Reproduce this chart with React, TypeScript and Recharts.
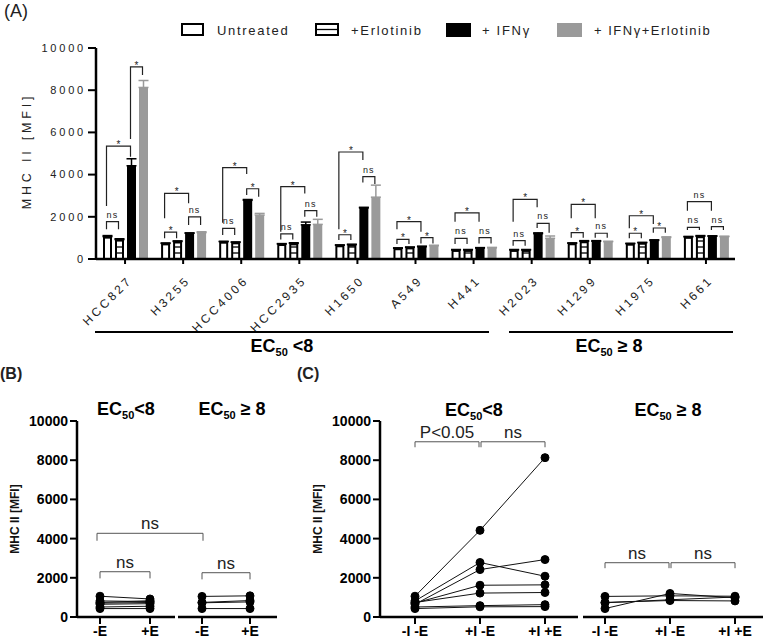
import React from 'react';
import { BarChart, Bar, XAxis, YAxis, ErrorBar, LineChart, Line } from 'recharts';

// MHC II MFI per cell line (panel A); panels B and C reuse the same means
const cellLines = ['HCC827', 'H3255', 'HCC4006', 'HCC2935', 'H1650', 'A549', 'H441', 'H2023', 'H1299', 'H1975', 'H661'];
const untreated = [1060, 740, 820, 710, 650, 510, 430, 430, 745, 725, 1050];
const erlotinib = [920, 830, 790, 740, 680, 550, 430, 430, 840, 770, 1080];
const ifng = [4420, 1220, 2780, 1620, 2420, 580, 520, 1200, 840, 880, 1080];
const ifngErlotinib = [8130, 1250, 2080, 1640, 2930, 630, 530, 980, 820, 1020, 1060];
const untreatedErr = [50, 20, 20, 20, 20, 20, 20, 20, 20, 20, 20];
const erlotinibErr = [40, 30, 20, 30, 20, 20, 20, 20, 30, 20, 30];
const ifngErr = [330, 20, 40, 130, 30, 30, 20, 40, 30, 30, 20];
const ifngErlotinibErr = [330, 40, 80, 240, 570, 20, 20, 110, 20, 30, 20];

const sensitiveIdx = [0, 1, 2, 3, 4, 5, 6]; // EC50 < 8
const resistantIdx = [7, 8, 9, 10]; // EC50 >= 8

const legendLabels = ['Untreated', '+Erlotinib', '+ IFNγ', '+ IFNγ+Erlotinib'];
const yTicks = [0, 2000, 4000, 6000, 8000, 10000];
const condsB = ['-E', '+E'];
const condsC = ['-I -E', '+I -E', '+I +E'];

// [cell line, from bar, to bar, bracket level, left drop, right drop, label]
const brackets: [number, number, number, number, number, number, string][] = [
  [0, 0, 1, 1770, 1410, 1410, 'ns'],
  [0, 0, 2, 5350, 2510, 4850, '*'],
  [0, 2, 3, 9110, 5690, 8720, '*'],
  [1, 0, 1, 1270, 980, 980, '*'],
  [1, 0, 2, 3110, 1930, 2640, '*'],
  [1, 2, 3, 2000, 1610, 1610, 'ns'],
  [2, 0, 1, 1450, 1140, 1140, 'ns'],
  [2, 0, 2, 4330, 1720, 4030, '*'],
  [2, 2, 3, 3330, 3030, 2950, '*'],
  [3, 0, 1, 1190, 930, 930, 'ns'],
  [3, 0, 2, 3430, 1290, 3110, '*'],
  [3, 2, 3, 2290, 2000, 2000, 'ns'],
  [4, 0, 1, 1150, 900, 900, '*'],
  [4, 0, 2, 5070, 1410, 4690, '*'],
  [4, 2, 3, 3900, 3620, 3550, 'ns'],
  [5, 0, 1, 930, 710, 710, '*'],
  [5, 2, 3, 1010, 740, 740, '*'],
  [5, 0, 2, 1770, 1410, 1290, '*'],
  [6, 0, 1, 980, 710, 710, 'ns'],
  [6, 2, 3, 1010, 740, 740, 'ns'],
  [6, 0, 2, 2190, 1770, 1770, '*'],
  [7, 0, 1, 870, 630, 630, 'ns'],
  [7, 0, 2, 2830, 1770, 2450, '*'],
  [7, 2, 3, 1690, 1470, 1250, 'ns'],
  [8, 0, 1, 1250, 1010, 1010, '*'],
  [8, 2, 3, 1220, 1010, 1010, 'ns'],
  [8, 0, 2, 2590, 1930, 1930, '*'],
  [9, 0, 1, 1220, 980, 980, '*'],
  [9, 2, 3, 1470, 1250, 1250, '*'],
  [9, 0, 2, 2050, 1460, 1660, '*'],
  [10, 0, 1, 1500, 1370, 1370, 'ns'],
  [10, 2, 3, 1530, 1370, 1370, 'ns'],
  [10, 0, 2, 2720, 2290, 2290, 'ns'],
];

const FONT = '"Liberation Sans", Arial, Helvetica, sans-serif';
const GRAY = '#9a9a9a';

// panel A plot area (must match the BarChart margins below)
const A = { left: 96, top: 48, width: 639, height: 211 };
const BAR = 9;
const GAP = 3;
const band = A.width / cellLines.length;
const barOffset = Math.floor((band - (4 * BAR + 3 * GAP)) / 2);
const barCenter = (g: number, k: number) => A.left + g * band + barOffset + k * (BAR + GAP) + BAR / 2;
const yA = (v: number) => A.top + A.height * (1 - v / 10000);

// panels B / C share the same vertical plot area
const BC = { top: 421, height: 196 };
const yBC = (v: number) => BC.top + BC.height * (1 - v / 10000);

const panelsBC = {
  bL: { left: 0, yWidth: 77, plotW: 98, pad: { left: 23, right: 25 } },
  bR: { left: 178, yWidth: 0, plotW: 99, pad: { left: 24, right: 27 } },
  cL: { left: 290, yWidth: 90, plotW: 198, pad: { left: 35, right: 33 } },
  cR: { left: 583, yWidth: 0, plotW: 180, pad: { left: 22, right: 28 } },
};
type Panel = typeof panelsBC.bL;
const catX = (p: Panel, idx: number, n: number) =>
  p.left + p.yWidth + p.pad.left + (idx * (p.plotW - p.pad.left - p.pad.right)) / (n - 1);

const barRows = cellLines.map((name, i) => ({
  name,
  u: untreated[i],
  e: erlotinib[i],
  i: ifng[i],
  g: ifngErlotinib[i],
  uErr: [0, untreatedErr[i]],
  eErr: [0, erlotinibErr[i]],
  iErr: [0, ifngErr[i]],
  gErr: [0, ifngErlotinibErr[i]],
}));

const lineRows = (conds: string[], series: number[][], idx: number[]) =>
  conds.map((cond, c) => {
    const row: Record<string, any> = { cond };
    idx.forEach((j) => (row[cellLines[j]] = series[c][j]));
    return row;
  });

const OutlineBar = (props: any) => {
  const { x, y, width, height, hatch } = props;
  if (!(height > 0)) return null;
  const lines = [];
  if (hatch) {
    for (let k = 1; y + height - k * 6 > y + 2; k++) {
      const yy = y + height - k * 6;
      lines.push(<line key={k} x1={x + 1} x2={x + width - 1} y1={yy} y2={yy} stroke="#000" strokeWidth={1.3} />);
    }
  }
  return (
    <g>
      <rect x={x + 1} y={y + 1} width={width - 2} height={height - 1} fill="#fff" stroke="#000" strokeWidth={2} />
      {lines}
    </g>
  );
};

const SlantedTick = ({ x, y, payload }: any) => (
  <text
    transform={`translate(${x + 8},${y + 15}) rotate(-45)`}
    textAnchor="end"
    fontSize={12}
    letterSpacing={3}
    fill="#222"
    fontFamily={FONT}
  >
    {payload.value}
  </text>
);

const SpacedYTick = ({ x, y, payload }: any) => (
  <text x={x} y={y} dy="0.35em" textAnchor="end" fontSize={11} letterSpacing={2.8} fill="#222" fontFamily={FONT}>
    {payload.value}
  </text>
);

const BoldXTick = ({ x, y, payload }: any) => (
  <text x={x} y={y} dy="0.71em" textAnchor="middle" fontSize={14} fontWeight="bold" fill="#000" fontFamily={FONT}>
    {payload.value}
  </text>
);

const BoldYTick = ({ x, y, payload }: any) => (
  <text x={x} y={y} dy="0.35em" textAnchor="end" fontSize={14} fontWeight="bold" fill="#000" fontFamily={FONT}>
    {payload.value}
  </text>
);

function PairChart({ p, rows, keys }: { p: Panel; rows: any[]; keys: string[] }) {
  const width = p.yWidth + p.plotW + 6;
  return (
    <div style={{ position: 'absolute', left: p.left, top: 400 }}>
      <LineChart width={width} height={246} data={rows} margin={{ top: 21, right: 6, left: 0, bottom: 0 }}>
        <XAxis
          dataKey="cond"
          interval={0}
          padding={p.pad}
          height={29}
          tickSize={7}
          axisLine={{ stroke: '#000', strokeWidth: 2.5 }}
          tickLine={{ stroke: '#000', strokeWidth: 2 }}
          tick={(t: any) => <BoldXTick {...t} />}
        />
        {p.yWidth ? (
          <YAxis
            width={p.yWidth}
            domain={[0, 10000]}
            ticks={yTicks}
            interval={0}
            tickSize={7}
            axisLine={{ stroke: '#000', strokeWidth: 2.5 }}
            tickLine={{ stroke: '#000', strokeWidth: 2 }}
            tick={(t: any) => <BoldYTick {...t} />}
          />
        ) : (
          <YAxis hide domain={[0, 10000]} />
        )}
        {keys.map((k) => (
          <Line
            key={k}
            dataKey={k}
            stroke="#111"
            strokeWidth={1}
            dot={{ r: 4, fill: '#000', stroke: '#000', strokeWidth: 1 }}
            isAnimationActive={false}
          />
        ))}
      </LineChart>
    </div>
  );
}

const Title = ({ x, y, rel }: { x: number; y: number; rel: string }) => (
  <text x={x} y={y} textAnchor="middle" fontSize={18} fontWeight="bold" fontFamily={FONT} fill="#000">
    EC
    <tspan fontSize={11} dy={4}>
      50
    </tspan>
    <tspan dy={-4}>{rel}</tspan>
  </text>
);

const StatBracket = ({ x1, x2, level, drop, label }: any) => {
  const y = yBC(level);
  const yd = yBC(drop);
  return (
    <g>
      <polyline points={`${x1},${yd} ${x1},${y} ${x2},${y} ${x2},${yd}`} fill="none" stroke="#555" strokeWidth={1} />
      <text x={(x1 + x2) / 2} y={y - 4} textAnchor="middle" fontSize={17} fill="#222" fontFamily={FONT}>
        {label}
      </text>
    </g>
  );
};

export default function App() {
  const keysS = sensitiveIdx.map((j) => cellLines[j]);
  const keysR = resistantIdx.map((j) => cellLines[j]);
  const { bL, bR, cL, cR } = panelsBC;

  return (
    <div
      style={{
        position: 'absolute',
        left: 0,
        top: 0,
        width: 769,
        height: 638,
        overflow: 'hidden',
        background: '#fff',
        fontFamily: FONT,
      }}
    >
      {/* (A) grouped bars */}
      <div style={{ position: 'absolute', left: 0, top: 0 }}>
        <BarChart
          width={769}
          height={350}
          data={barRows}
          margin={{ top: A.top, right: 769 - A.left - A.width, left: 0, bottom: 0 }}
          barSize={BAR}
          barGap={GAP}
        >
          <XAxis
            dataKey="name"
            interval={0}
            height={91}
            tickSize={5}
            axisLine={{ stroke: '#000', strokeWidth: 2.5 }}
            tickLine={{ stroke: '#000', strokeWidth: 2 }}
            tick={(t: any) => <SlantedTick {...t} />}
          />
          <YAxis
            width={A.left}
            domain={[0, 10000]}
            ticks={yTicks}
            interval={0}
            tickSize={8}
            axisLine={{ stroke: '#000', strokeWidth: 2.5 }}
            tickLine={{ stroke: '#000', strokeWidth: 2 }}
            tick={(t: any) => <SpacedYTick {...t} />}
          />
          <Bar dataKey="u" isAnimationActive={false} shape={(p: any) => <OutlineBar {...p} />}>
            <ErrorBar dataKey="uErr" width={5} stroke="#000" strokeWidth={1.5} />
          </Bar>
          <Bar dataKey="e" isAnimationActive={false} shape={(p: any) => <OutlineBar {...p} hatch />}>
            <ErrorBar dataKey="eErr" width={5} stroke="#000" strokeWidth={1.5} />
          </Bar>
          <Bar dataKey="i" fill="#000" isAnimationActive={false}>
            <ErrorBar dataKey="iErr" width={5} stroke="#000" strokeWidth={1.5} />
          </Bar>
          <Bar dataKey="g" fill={GRAY} isAnimationActive={false}>
            <ErrorBar dataKey="gErr" width={5} stroke={GRAY} strokeWidth={1.5} />
          </Bar>
        </BarChart>
      </div>

      {/* (B) -E vs +E */}
      <PairChart p={bL} rows={lineRows(condsB, [untreated, erlotinib], sensitiveIdx)} keys={keysS} />
      <PairChart p={bR} rows={lineRows(condsB, [untreated, erlotinib], resistantIdx)} keys={keysR} />

      {/* (C) IFNγ with / without erlotinib */}
      <PairChart p={cL} rows={lineRows(condsC, [untreated, ifng, ifngErlotinib], sensitiveIdx)} keys={keysS} />
      <PairChart p={cR} rows={lineRows(condsC, [untreated, ifng, ifngErlotinib], resistantIdx)} keys={keysR} />

      <svg
        width={769}
        height={638}
        style={{ position: 'absolute', left: 0, top: 0, pointerEvents: 'none' }}
        fontFamily={FONT}
      >
        <text x={4} y={17} fontSize={18} fill="#222">
          (A)
        </text>

        {/* legend */}
        <rect x={182} y={24} width={21} height={11} fill="#fff" stroke="#000" strokeWidth={2} />
        <text x={217} y={35} fontSize={13} letterSpacing={1.7} fill="#222">
          {legendLabels[0]}
        </text>
        <rect x={316} y={24} width={22} height={11} fill="#fff" stroke="#000" strokeWidth={2} />
        <line x1={316} x2={338} y1={29.5} y2={29.5} stroke="#000" strokeWidth={1.3} />
        <text x={351} y={35} fontSize={13} letterSpacing={1.7} fill="#222">
          {legendLabels[1]}
        </text>
        <rect x={446} y={23} width={25} height={14} fill="#000" />
        <text x={482} y={35} fontSize={13} letterSpacing={1.7} fill="#222">
          {legendLabels[2]}
        </text>
        <rect x={557} y={23} width={25} height={14} fill={GRAY} />
        <text x={594} y={35} fontSize={13} letterSpacing={1.5} fill="#222">
          {legendLabels[3]}
        </text>

        <text
          transform={`translate(31,151) rotate(-90)`}
          textAnchor="middle"
          fontSize={12.5}
          letterSpacing={3.8}
          fill="#222"
        >
          MHC II [MFI]
        </text>

        {/* significance brackets in A */}
        {brackets.map(([g, a, b, lvl, da, db, lab], idx) => {
          const x1 = barCenter(g, a);
          const x2 = barCenter(g, b);
          const y = yA(lvl);
          const star = lab === '*';
          return (
            <g key={idx}>
              <polyline
                points={`${x1},${yA(da)} ${x1},${y} ${x2},${y} ${x2},${yA(db)}`}
                fill="none"
                stroke="#222"
                strokeWidth={1.2}
              />
              <text
                x={(x1 + x2) / 2}
                y={star ? y + 2 : y - 4}
                textAnchor="middle"
                fontSize={star ? 10 : 9}
                letterSpacing={star ? 0 : 1.2}
                fill="#222"
              >
                {lab}
              </text>
            </g>
          );
        })}

        {/* group lines under A */}
        <line x1={95} x2={489} y1={332} y2={332} stroke="#000" strokeWidth={2} />
        <line x1={509} x2={733} y1={332} y2={332} stroke="#000" strokeWidth={2} />
        <Title x={282} y={352} rel=" <8" />
        <Title x={609} y={352} rel=" ≥ 8" />

        <text x={0} y={379} fontSize={16} fontWeight="bold" fill="#222">
          (B)
        </text>
        <text x={297} y={379} fontSize={16} fontWeight="bold" fill="#222">
          (C)
        </text>

        <Title x={126} y={415} rel="<8" />
        <Title x={232} y={415} rel=" ≥ 8" />
        <Title x={474} y={416} rel="<8" />
        <Title x={668} y={416} rel=" ≥ 8" />

        <text transform={`translate(18.5,${BC.top + BC.height / 2}) rotate(-90)`} textAnchor="middle" fontSize={12} fontWeight="bold" fill="#111">
          MHC II [MFI]
        </text>
        <text transform={`translate(321.5,${BC.top + BC.height / 2}) rotate(-90)`} textAnchor="middle" fontSize={12} fontWeight="bold" fill="#111">
          MHC II [MFI]
        </text>

        {/* brackets in B */}
        <StatBracket x1={catX(bL, 0, 2)} x2={catX(bL, 1, 2)} level={2310} drop={1970} label="ns" />
        <StatBracket x1={catX(bR, 0, 2)} x2={catX(bR, 1, 2)} level={2260} drop={1920} label="ns" />
        <StatBracket x1={catX(bL, 0, 2) - 3} x2={catX(bR, 0, 2) + 1} level={4270} drop={3890} label="ns" />

        {/* brackets in C */}
        <StatBracket x1={catX(cL, 0, 3)} x2={catX(cL, 1, 3) - 1} level={8940} drop={8660} label="P<0.05" />
        <StatBracket x1={catX(cL, 1, 3) + 1} x2={catX(cL, 2, 3)} level={8940} drop={8660} label="ns" />
        <StatBracket x1={catX(cR, 0, 3)} x2={catX(cR, 1, 3) - 1} level={2770} drop={2490} label="ns" />
        <StatBracket x1={catX(cR, 1, 3) + 1} x2={catX(cR, 2, 3)} level={2770} drop={2490} label="ns" />
      </svg>
    </div>
  );
}
